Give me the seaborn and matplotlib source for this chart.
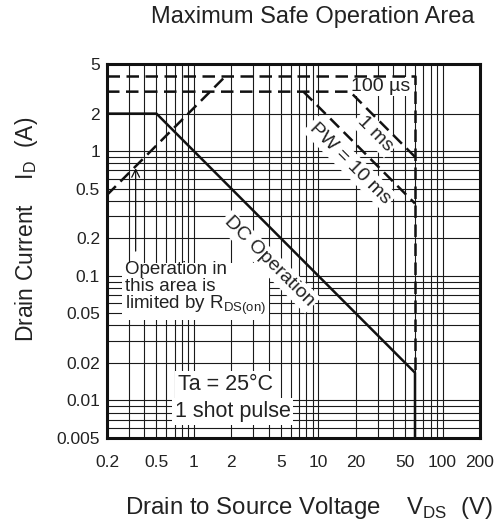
import numpy as np
import pandas as pd
import seaborn as sns
import matplotlib.pyplot as plt
from matplotlib.ticker import NullLocator

# Safe operation area curves (V_DS in V, I_D in A)
dc_v = [0.2, 0.5, 60, 60]
dc_i = [2, 2, 0.0167, 0.005]
pw100us_v = [0.2, 60, 60]
pw100us_i = [4, 4, 0.0167]
pw1ms_v = [0.2, 18, 60]
pw1ms_i = [3, 3, 0.9]
pw10ms_v = [7.6, 60]
pw10ms_i = [3, 0.38]
rds_v = [0.2, 1.8]
rds_i = [0.445, 4.0]

x_ticks = [0.2, 0.5, 1, 2, 5, 10, 20, 50, 100, 200]
x_ticklabels = ["0.2", "0.5", "1", "2", "5", "10", "20", "50", "100", "200"]
y_ticks = [5, 2, 1, 0.5, 0.2, 0.1, 0.05, 0.02, 0.01, 0.005]
y_ticklabels = ["5", "2", "1", "0.5", "0.2", "0.1", "0.05", "0.02", "0.01", "0.005"]

sns.set_theme(style="white")
plt.rcParams["font.family"] = ["Liberation Sans", "DejaVu Sans"]
plt.rcParams["mathtext.fontset"] = "custom"
plt.rcParams["mathtext.rm"] = "Liberation Sans"

fig = plt.figure(figsize=(5.04, 5.27), dpi=100)
ax = fig.add_axes([107 / 504, 1 - 438 / 527, 373 / 504, 374 / 527])
ax.set_xscale("log")
ax.set_yscale("log")
ax.set_xlim(0.2, 200)
ax.set_ylim(0.005, 5)

# datasheet style grid: 1..9 per decade, vertical lines stop at 100 V
gx = [m * 10.0 ** e for e in range(-1, 3) for m in range(1, 10)]
gx = [v for v in gx if 0.2 < v <= 100.001]
gy = [m * 10.0 ** e for e in range(-3, 1) for m in range(1, 10)]
gy = [v for v in gy if 0.005 < v < 2.5]
ax.vlines(gx, 0.005, 5, color="#1a1a1a", lw=0.8, zorder=1)
ax.hlines(gy, 0.2, 200, color="#1a1a1a", lw=0.8, zorder=1)

dash = (0, (5, 2.6))
sns.lineplot(x=dc_v, y=dc_i, sort=False, estimator=None, ax=ax,
             color="#111111", lw=1.8, zorder=5)
for xs, ys in [(pw100us_v, pw100us_i), (pw1ms_v, pw1ms_i),
               (pw10ms_v, pw10ms_i), (rds_v, rds_i)]:
    sns.lineplot(x=xs, y=ys, sort=False, estimator=None, ax=ax,
                 color="#111111", lw=1.8, linestyle=dash, zorder=5)

box = dict(facecolor="white", edgecolor="none", pad=2)
tc = "#222222"
fs = 14
ax.text(32, 3.3, "100 µs", ha="center", va="center", fontsize=fs,
        color=tc, bbox=dict(facecolor="white", edgecolor="none", pad=0.5),
        zorder=3)
ax.text(28.6, 1.39, "1 ms", ha="center", va="center", fontsize=fs,
        rotation=-45, color=tc, bbox=box, zorder=3)
ax.text(18, 0.8, "PW = 10 ms", ha="center", va="center", fontsize=fs,
        rotation=-45, color=tc, bbox=box, zorder=3)
ax.text(4.0, 0.13, "DC Operation", ha="center", va="center", fontsize=fs,
        rotation=-45, color=tc, bbox=box, zorder=3)
ax.text(0.28, 0.078, "Operation in\nthis area is\nlimited by R$_{\\mathregular{DS(on)}}$",
        ha="left", va="center", fontsize=13.5, color=tc, linespacing=0.95,
        bbox=box, zorder=3)
ax.text(1.78, 0.0134, "Ta = 25°C", ha="center", va="center", fontsize=15.5,
        color=tc, bbox=box, zorder=3)
ax.text(2.05, 0.0082, "1 shot pulse", ha="center", va="center", fontsize=15.5,
        color=tc, bbox=box, zorder=3)
ax.annotate("", xy=(0.34, 0.77), xytext=(0.34, 0.15),
            arrowprops=dict(arrowstyle="->", color="#111111", lw=0.9,
                            mutation_scale=14), zorder=4)

ax.set_xticks(x_ticks)
ax.set_xticklabels(x_ticklabels)
ax.set_yticks(y_ticks)
ax.set_yticklabels(y_ticklabels)
ax.xaxis.set_minor_locator(NullLocator())
ax.yaxis.set_minor_locator(NullLocator())
ax.tick_params(axis="both", length=0, labelsize=12.5, labelcolor=tc)
ax.tick_params(axis="x", pad=12)
ax.tick_params(axis="y", pad=5)
ax.set_xlabel("")
ax.set_ylabel("")
for sp in ax.spines.values():
    sp.set_visible(True)
    sp.set_color("#111111")
    sp.set_linewidth(2.2)

fig.text(313 / 504, 1 - 17 / 527, "Maximum Safe Operation Area", ha="center",
         va="center", fontsize=17, color=tc)
fig.text(125 / 504, 1 - 514 / 527,
         "Drain to Source Voltage    V$_{\\mathregular{DS}}$  (V)",
         ha="left", va="baseline", fontsize=17.3, color=tc)
fig.text(33 / 504, 1 - 342 / 527,
         "Drain Current    I$_{\\mathregular{D}}$  (A)",
         ha="left", va="baseline", rotation=90, rotation_mode="anchor",
         fontsize=16.5, color=tc)

fig.savefig("out.png", dpi=100)
